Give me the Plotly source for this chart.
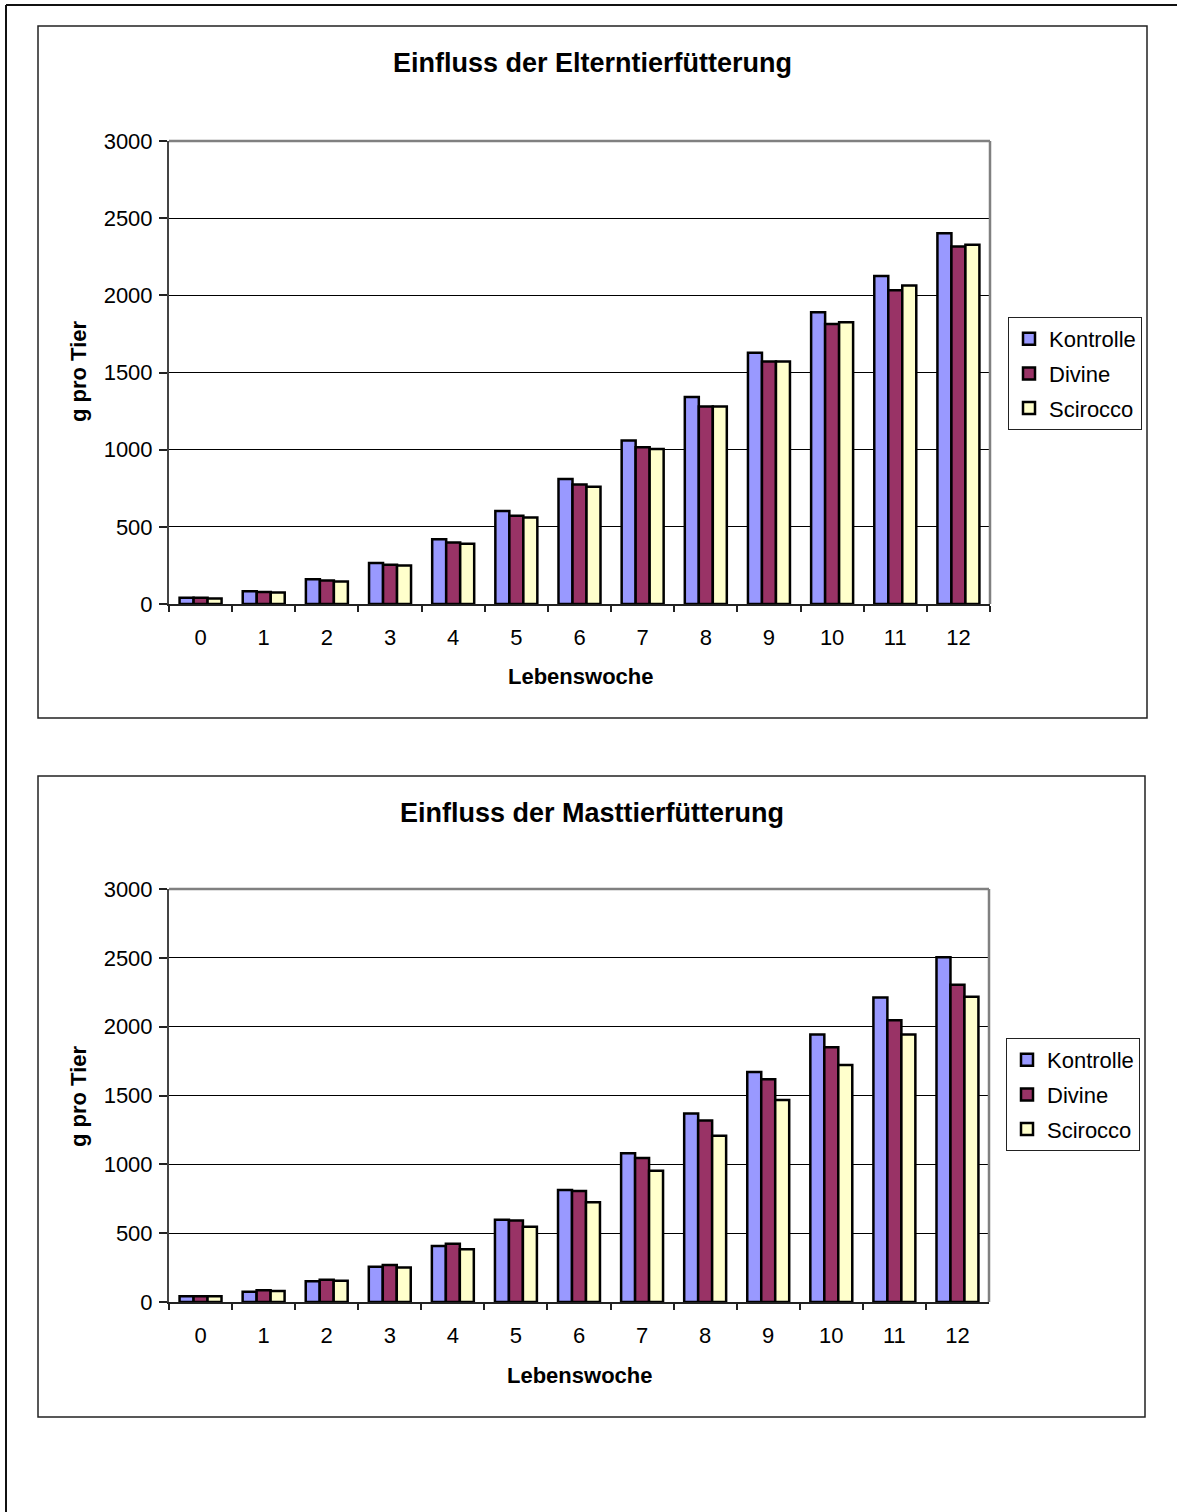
import plotly.graph_objects as go

# Weekly body weight (g per animal) by treatment group
weeks = ["0", "1", "2", "3", "4", "5", "6", "7", "8", "9", "10", "11", "12"]
series_names = ["Kontrolle", "Divine", "Scirocco"]

# Influence of parent-animal feeding
kontrolle_eltern = [40, 82, 160, 266, 420, 602, 810, 1059, 1342, 1628, 1890, 2126, 2403]
divine_eltern = [40, 78, 152, 255, 398, 572, 775, 1015, 1280, 1572, 1814, 2033, 2317]
scirocco_eltern = [36, 74, 145, 249, 390, 561, 760, 1005, 1280, 1572, 1825, 2063, 2327]

# Influence of fattening-animal feeding
kontrolle_mast = [41, 75, 150, 256, 406, 597, 814, 1080, 1369, 1671, 1944, 2212, 2504]
divine_mast = [41, 85, 162, 268, 423, 592, 807, 1046, 1319, 1618, 1850, 2046, 2304]
scirocco_mast = [41, 80, 155, 251, 384, 546, 725, 954, 1208, 1468, 1722, 1944, 2217]

y_ticks = [0, 500, 1000, 1500, 2000, 2500, 3000]

W, H = 1177, 1512
colors = ["#9999FF", "#993366", "#FFFFCC"]
FONT = "Arial, Liberation Sans, sans-serif"


def px(x):
    return x / W


def py(y):
    return 1 - y / H


fig = go.Figure()

panels = [
    dict(title="Einfluss der Elterntierfütterung",
         data=[kontrolle_eltern, divine_eltern, scirocco_eltern],
         xa="x", ya="y", legend="legend",
         box=(38, 26, 1147, 718), plot=(169, 141, 990, 604),
         title_y=63, xtitle_y=676, ytitle_y=372, xtitle_x=580,
         legend_xy=(1008, 317)),
    dict(title="Einfluss der Masttierfütterung",
         data=[kontrolle_mast, divine_mast, scirocco_mast],
         xa="x2", ya="y2", legend="legend2",
         box=(38, 776, 1145, 1417), plot=(169, 889, 989, 1302),
         title_y=813, xtitle_y=1375, ytitle_y=1097, xtitle_x=579,
         legend_xy=(1006, 1038)),
]

shapes = []
annotations = []
layout_axes = {}

for p in panels:
    for name, vals, col in zip(series_names, p["data"], colors):
        fig.add_trace(go.Bar(
            x=weeks, y=vals, name=name,
            marker=dict(color=col, line=dict(color="black", width=2.5)),
            xaxis=p["xa"], yaxis=p["ya"], legend=p["legend"],
            legendgroup=p["legend"] + name,
        ))

    x0, y0, x1, y1 = p["plot"]
    xkey = "xaxis" + p["xa"][1:]
    ykey = "yaxis" + p["ya"][1:]
    layout_axes[xkey] = dict(
        domain=[px(x0), px(x1)], anchor=p["ya"], type="category",
        automargin=False,
        showline=True, linecolor="#222222", linewidth=2,
        ticks="outside", tickson="boundaries", ticklen=6, tickcolor="#222222",
        tickwidth=1.5, ticklabelstandoff=13,
        tickfont=dict(family=FONT, size=22, color="black"),
        showgrid=False,
    )
    layout_axes[ykey] = dict(
        domain=[py(y1), py(y0)], anchor=p["xa"], range=[0, 3000],
        automargin=False,
        tickvals=y_ticks, showline=True, linecolor="#444444", linewidth=2,
        ticks="outside", ticklen=8, tickcolor="#222222", tickwidth=1.5,
        ticklabelstandoff=2,
        tickfont=dict(family=FONT, size=22, color="black"),
        showgrid=True, gridcolor="black", gridwidth=1, zeroline=False,
    )

    # gray frame of the plot area (top and right edges)
    shapes.append(dict(type="line", xref="paper", yref="paper",
                       x0=px(x0), x1=px(x1), y0=py(y0), y1=py(y0),
                       line=dict(color="#808080", width=2.5), layer="above"))
    shapes.append(dict(type="line", xref="paper", yref="paper",
                       x0=px(x1), x1=px(x1), y0=py(y0), y1=py(y1),
                       line=dict(color="#808080", width=2.5), layer="above"))

    # chart border
    bx0, by0, bx1, by1 = p["box"]
    shapes.append(dict(type="rect", xref="paper", yref="paper",
                       x0=px(bx0), x1=px(bx1), y0=py(by0), y1=py(by1),
                       line=dict(color="#222222", width=1.5)))

    annotations.append(dict(text="<b>" + p["title"] + "</b>", xref="paper", yref="paper",
                            x=px(592), y=py(p["title_y"]), xanchor="center", yanchor="middle",
                            showarrow=False, font=dict(family=FONT, size=27, color="black")))
    annotations.append(dict(text="<b>Lebenswoche</b>", xref="paper", yref="paper",
                            x=px(p["xtitle_x"]), y=py(p["xtitle_y"]), xanchor="center",
                            yanchor="middle", showarrow=False,
                            font=dict(family=FONT, size=22, color="black")))
    annotations.append(dict(text="<b>g pro Tier</b>", xref="paper", yref="paper",
                            x=px(78), y=py(p["ytitle_y"]), xanchor="center",
                            yanchor="middle", textangle=-90, showarrow=False,
                            font=dict(family=FONT, size=22, color="black")))

    lx, ly = p["legend_xy"]
    layout_axes[p["legend"]] = dict(
        x=px(lx), y=py(ly), xanchor="left", yanchor="top",
        bgcolor="white", bordercolor="#222222", borderwidth=1,
        font=dict(family=FONT, size=22, color="black"),
        traceorder="grouped", tracegroupgap=3, itemwidth=30,
    )

# page border lines (top and left edges)
shapes.append(dict(type="line", xref="paper", yref="paper",
                   x0=px(6), x1=1, y0=py(5), y1=py(5),
                   line=dict(color="#111111", width=2)))
shapes.append(dict(type="line", xref="paper", yref="paper",
                   x0=px(6), x1=px(6), y0=py(5), y1=0,
                   line=dict(color="#111111", width=2)))

fig.update_layout(
    width=W, height=H, margin=dict(l=0, r=0, t=0, b=0, autoexpand=False),
    paper_bgcolor="white", plot_bgcolor="white",
    barmode="group", bargap=0.335, bargroupgap=0,
    shapes=shapes, annotations=annotations,
    font=dict(family=FONT, color="black"),
    **layout_axes,
)

fig.write_html("out.html")
